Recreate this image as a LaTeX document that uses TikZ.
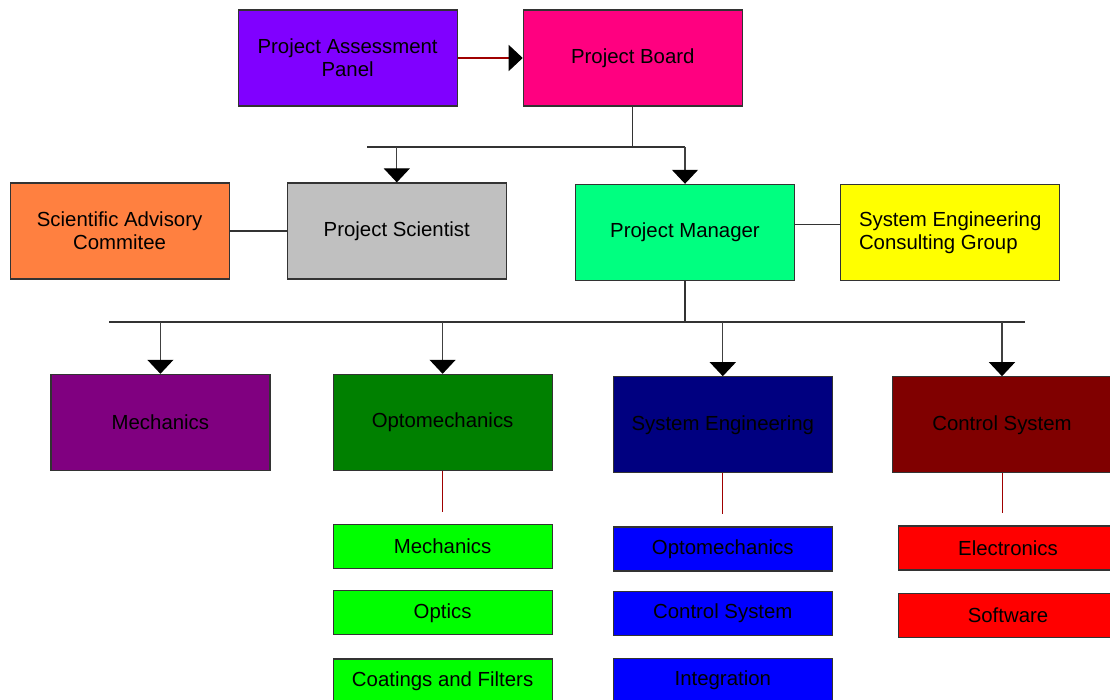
\documentclass[tikz,border=0pt]{standalone}
\usepackage{fontspec}
\setmainfont{Liberation Sans}
\usetikzlibrary{positioning, arrows.meta}
\definecolor{cpap}{HTML}{8000FF}
\definecolor{cpb}{HTML}{FF0080}
\definecolor{csac}{HTML}{FF8040}
\definecolor{cps}{HTML}{C0C0C0}
\definecolor{cpm}{HTML}{00FF80}
\definecolor{csecg}{HTML}{FFFF00}
\definecolor{cmech}{HTML}{800080}
\definecolor{copto}{HTML}{008000}
\definecolor{csys}{HTML}{000080}
\definecolor{cctrl}{HTML}{800000}
\definecolor{cgreen}{HTML}{00FF00}
\definecolor{cblue}{HTML}{0000FF}
\definecolor{cred}{HTML}{FF0000}
\definecolor{darkred}{HTML}{A00000}
\tikzset{
  arr/.style={-{Triangle[length=3.5mm,width=6.5mm,color=black]}, line width=0.3mm, draw=black!75},
  parr/.style={-{Triangle[length=3.5mm,width=6.5mm,color=black]}, line width=0.3mm, draw=darkred},
  ln/.style={line width=0.3mm, draw=black!80},
  stub/.style={line width=0.25mm, draw=darkred, shorten >=3mm},
  blk/.style={draw=black!80, line width=0.3mm, minimum width=54.75mm, minimum height=24mm, inner sep=1pt, align=center},
  sub/.style={blk, minimum height=11mm}
}
\begin{document}
\begin{tikzpicture}[font=\fontsize{14.5}{16.4}\selectfont]
\useasboundingbox (0,0) rectangle (277.5mm,-175mm);
% top rows
\node[blk, fill=cpap] (pap) at (86.9mm,-14.5mm) {Project Assessment\\Panel};
\node[blk, fill=cpb, right=16.25mm of pap] (pb) {Project Board};
\node[blk, fill=csac] (sac) at (29.9mm,-57.75mm) {Scientific Advisory\\Commitee};
\node[blk, fill=cps, right=14.25mm of sac] (ps) {Project Scientist};
\node[blk, fill=cpm] (pm) at (171.25mm,-58.1mm) {Project Manager};
\node[blk, fill=csecg, align=left, right=11.25mm of pm] (secg)
  {System Engineering\\Consulting Group};
% work packages
\node[blk, fill=cmech] (mech) at (40.1mm,-105.6mm) {Mechanics};
\node[blk, fill=copto, right=15.5mm of mech] (opto) {Optomechanics};
\node[blk, fill=csys, right=15mm of opto, yshift=-0.6mm] (syse) {System Engineering};
\node[blk, fill=cctrl, right=14.75mm of syse] (ctrl) {Control System};
% sub packages
\node[sub, fill=cgreen, below=13.25mm of opto] (gmech) {Mechanics};
\node[sub, fill=cgreen, below=5.25mm of gmech] (gopt) {Optics};
\node[sub, fill=cgreen, below=5.75mm of gopt] (gcoat) {Coatings and Filters};
\node[sub, fill=cblue, below=13.25mm of syse] (bopto) {Optomechanics};
\node[sub, fill=cblue, below=4.75mm of bopto] (bctrl) {Control System};
\node[sub, fill=cblue, below=5.5mm of bctrl] (binteg) {Integration};
\node[sub, fill=cred, below=13mm of ctrl, xshift=1.5mm] (relec) {Electronics};
\node[sub, fill=cred, below=5.5mm of relec] (rsoft) {Software};
% connectors
\draw[parr] (pap) -- (pb);
\coordinate (busa) at (91.75mm,-36.75mm);
\draw[ln] (pb.south) -- (pb.south |- busa);
\draw[ln] (busa) -- (pm.north |- busa);
\draw[arr] (ps.north |- busa) -- (ps.north);
\draw[arr] (pm.north |- busa) -- (pm.north);
\draw[ln] (sac) -- (ps);
\draw[ln] ([yshift=2mm]pm.east) -- ([yshift=2mm]secg.west);
\coordinate (busc) at (27.25mm,-80.5mm);
\coordinate (busd) at (256.25mm,-80.5mm);
\draw[ln] (busc) -- (busd);
\draw[ln] (pm.south) -- (pm.south |- busc);
\draw[arr] (mech.north |- busc) -- (mech.north);
\draw[arr] (opto.north |- busc) -- (opto.north);
\draw[arr] (syse.north |- busc) -- (syse.north);
\draw[arr] (ctrl.north |- busc) -- (ctrl.north);
\draw[stub] (opto.south) -- (opto.south |- gmech.north);
\draw[stub] (syse.south) -- (syse.south |- bopto.north);
\draw[stub] (ctrl.south) -- (ctrl.south |- relec.north);
\end{tikzpicture}
\end{document}
